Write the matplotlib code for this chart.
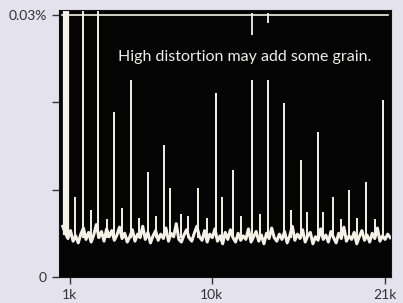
import matplotlib
matplotlib.use('Agg')
import matplotlib.pyplot as plt
import numpy as np

# noise floor of the spectrum (percent), read left to right
noise_level = [0.0058, 0.0050, 0.0044, 0.0053, 0.0041, 0.0047, 0.0039, 0.0049, 0.0056, 0.0043,
               0.0051, 0.0040, 0.0048, 0.0060, 0.0045, 0.0052, 0.0041, 0.0055, 0.0046, 0.0053,
               0.0042, 0.0048, 0.0057, 0.0044, 0.0050, 0.0040, 0.0046, 0.0054, 0.0041, 0.0049,
               0.0045, 0.0058, 0.0043, 0.0051, 0.0039, 0.0047, 0.0053, 0.0042, 0.0049, 0.0044,
               0.0056, 0.0041, 0.0050, 0.0046, 0.0061, 0.0043, 0.0040, 0.0048, 0.0054, 0.0045,
               0.0041, 0.0050, 0.0058, 0.0046, 0.0042, 0.0053, 0.0040, 0.0049, 0.0045, 0.0055,
               0.0041, 0.0047, 0.0038, 0.0051, 0.0043, 0.0054, 0.0045, 0.0040, 0.0050, 0.0042,
               0.0047, 0.0043, 0.0055, 0.0040, 0.0046, 0.0052, 0.0041, 0.0048, 0.0038, 0.0050,
               0.0044, 0.0056, 0.0045, 0.0041, 0.0049, 0.0043, 0.0052, 0.0039, 0.0047, 0.0058,
               0.0042, 0.0049, 0.0044, 0.0054, 0.0040, 0.0047, 0.0051, 0.0038, 0.0046, 0.0042,
               0.0055, 0.0043, 0.0048, 0.0040, 0.0052, 0.0045, 0.0039, 0.0050, 0.0044, 0.0057,
               0.0041, 0.0047, 0.0043, 0.0051, 0.0038, 0.0046, 0.0053, 0.0042, 0.0048, 0.0040,
               0.0050, 0.0044, 0.0056, 0.0041, 0.0047, 0.0043, 0.0049, 0.0045]
noise_freq = np.linspace(0.55, 21.35, len(noise_level))

# harmonic and spurious peaks (kHz, percent)
peak_freq = [1.32, 1.81, 2.33, 2.80, 3.35, 3.81, 4.28, 4.88, 5.40, 5.94, 6.45, 6.99, 7.35,
             8.05, 8.50, 9.15, 9.70, 10.28, 10.68, 11.37, 11.90, 12.54, 13.10, 13.60, 14.60,
             15.02, 15.68, 16.04, 16.74, 17.09, 17.73, 18.20, 18.74, 19.25, 19.79, 20.35, 20.90]
peak_level = [0.0092, 0.0306, 0.0077, 0.0306, 0.0066, 0.0189, 0.0079, 0.0226, 0.0068, 0.0120, 0.0070, 0.0151, 0.0102,
              0.0072, 0.0070, 0.0102, 0.0068, 0.0211, 0.0091, 0.0123, 0.0070, 0.0226, 0.0072, 0.0226, 0.0199,
              0.0077, 0.0134, 0.0074, 0.0166, 0.0074, 0.0091, 0.0066, 0.0100, 0.0068, 0.0109, 0.0066, 0.0203]

# fundamental, drawn as a wide bar
fund_freq = 0.78
fund_level = 0.0306

# short over-range marks near the top
over_freq = [12.54, 13.60]
over_low = [0.0277, 0.0291]
over_high = [0.0302, 0.0302]

xtick_pos = [1, 10, 21]
xtick_lab = ['1k', '10k', '21k']
ytick_pos = [0, 0.01, 0.02, 0.03]
ytick_lab = ['0', '', '', '0.03%']

bg = '#e4e2ec'
trace = '#f2f2e6'

plt.rcParams['font.family'] = ['Lato', 'DejaVu Sans']

fig = plt.figure(figsize=(4.03, 3.03), dpi=100, facecolor=bg)
ax = fig.add_axes([0.146, 0.086, 0.824, 0.881])
ax.set_facecolor('#040404')

ax.plot(noise_freq, noise_level, color=trace, lw=2.2)
ax.vlines(peak_freq, 0.0045, peak_level, color=trace, lw=1.4)
ax.vlines(fund_freq, 0.0048, fund_level, color=trace, lw=4.5)
ax.vlines(over_freq, over_low, over_high, color=trace, lw=1.3)
ax.axhline(0.03, xmin=0.01, xmax=0.99, color=trace, lw=1.2)

ax.text(0.56, 0.824, 'High distortion may add some grain.', transform=ax.transAxes,
        ha='center', va='center', color='#eeeee6', fontsize=11.5)

ax.set_xlim(0.3, 21.39)
ax.set_ylim(0, 0.03057)
ax.set_xticks(xtick_pos)
ax.set_xticklabels(xtick_lab)
ax.set_yticks(ytick_pos)
ax.set_yticklabels(ytick_lab)
ax.tick_params(colors='#333333', labelsize=10, length=5, width=1, direction='out')
for s in ax.spines.values():
    s.set_color('#111111')

fig.savefig('out.png', dpi=100, facecolor=bg)
